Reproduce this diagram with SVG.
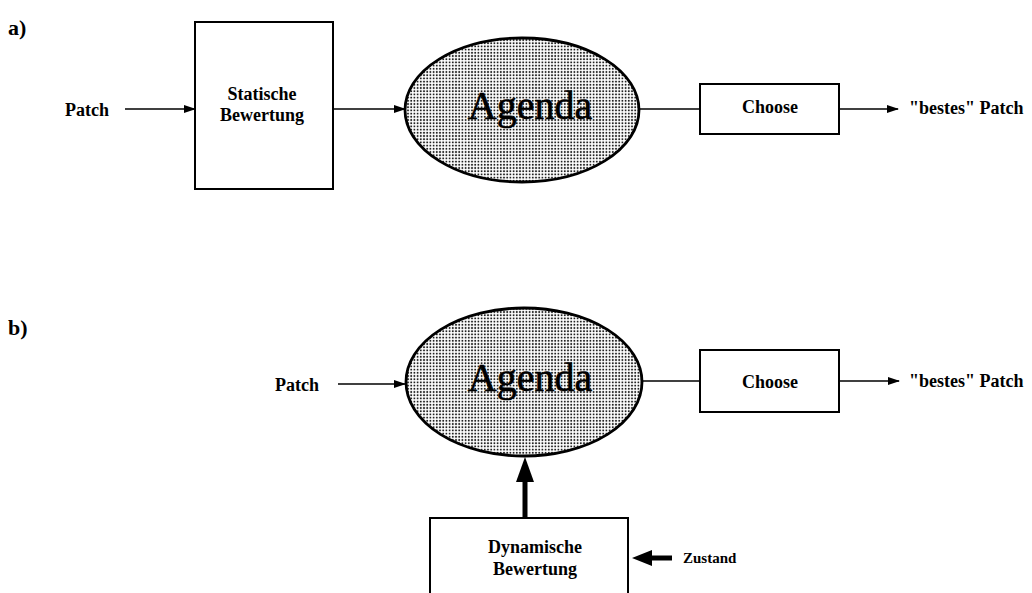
<svg xmlns="http://www.w3.org/2000/svg" width="1032" height="593" viewBox="0 0 1032 593">
  <style>
    .box { fill: #fff; stroke: #000; stroke-width: 2; }
    .ell { fill: url(#dots); stroke: #000; stroke-width: 2.8; }
    .lbl { font-family: "Liberation Serif", serif; font-weight: bold; font-size: 18px; fill: #000; }
    .sm { font-size: 15px; }
    .big { font-family: "Liberation Serif", serif; font-size: 40px; fill: #000; stroke: #000; stroke-width: 0.6; }
    .part { font-family: "Liberation Serif", serif; font-weight: bold; font-size: 22px; fill: #000; }
    .wire { stroke: #000; stroke-width: 1.6; fill: none; }
    .thick { stroke: #000; stroke-width: 5; fill: none; }
  </style>
  <defs>
    <pattern id="dots" width="3.2" height="3.2" patternUnits="userSpaceOnUse">
      <rect width="3.2" height="3.2" fill="#fff"/>
      <circle cx="1.6" cy="1.6" r="1" fill="#222"/>
    </pattern>
    <marker id="arr" markerWidth="12" markerHeight="8" refX="11" refY="4" orient="auto" markerUnits="userSpaceOnUse">
      <path d="M0,0 L12,4 L0,8 Z" fill="#000"/>
    </marker>
  </defs>

  <text class="part" x="8" y="35">a)</text>
  <text class="part" x="8" y="335">b)</text>

  <!-- connectors -->
  <g id="connectors">
    <line class="wire" x1="125" y1="109" x2="195" y2="109" marker-end="url(#arr)"/>
    <line class="wire" x1="333" y1="109" x2="405" y2="109" marker-end="url(#arr)"/>
    <line class="wire" x1="640" y1="109" x2="700" y2="109"/>
    <line class="wire" x1="839" y1="109" x2="898" y2="109" marker-end="url(#arr)"/>

    <line class="wire" x1="338" y1="384" x2="405" y2="384" marker-end="url(#arr)"/>
    <line class="wire" x1="643" y1="381" x2="700" y2="381"/>
    <line class="wire" x1="839" y1="381" x2="899" y2="381" marker-end="url(#arr)"/>
    <!-- heavy feed from dynamic rating into the agenda -->
    <line class="thick" x1="525" y1="518" x2="525" y2="478"/>
    <path d="M516,482 L525,457 L534,482 Z" fill="#000"/>
    <!-- heavy state input -->
    <line class="thick" x1="672" y1="558" x2="648" y2="558"/>
    <path d="M652,550 L632,558 L652,566 Z" fill="#000"/>
  </g>

  <!-- part a -->
  <g id="a-patch"><text class="lbl" x="65" y="116">Patch</text></g>
  <g id="a-statisch">
    <rect class="box" x="195" y="22" width="138" height="167"/>
    <text class="lbl" x="262" y="100" text-anchor="middle">Statische</text>
    <text class="lbl" x="262" y="121" text-anchor="middle">Bewertung</text>
  </g>
  <g id="a-agenda">
    <ellipse class="ell" cx="522" cy="110" rx="117" ry="72"/>
    <text class="big" x="530" y="119" text-anchor="middle">Agenda</text>
  </g>
  <g id="a-choose">
    <rect class="box" x="700" y="84" width="139" height="50"/>
    <text class="lbl" x="770" y="113" text-anchor="middle">Choose</text>
  </g>
  <g id="a-result"><text class="lbl" x="909" y="114">"bestes" Patch</text></g>

  <!-- part b -->
  <g id="b-patch"><text class="lbl" x="275" y="391">Patch</text></g>
  <g id="b-agenda">
    <ellipse class="ell" cx="524" cy="382" rx="118" ry="74"/>
    <text class="big" x="530" y="391" text-anchor="middle">Agenda</text>
  </g>
  <g id="b-choose">
    <rect class="box" x="700" y="350" width="139" height="62"/>
    <text class="lbl" x="770" y="388" text-anchor="middle">Choose</text>
  </g>
  <g id="b-result"><text class="lbl" x="909" y="387">"bestes" Patch</text></g>
  <g id="b-dynamisch">
    <rect class="box" x="430" y="518" width="198" height="90"/>
    <text class="lbl" x="535" y="553" text-anchor="middle">Dynamische</text>
    <text class="lbl" x="535" y="575" text-anchor="middle">Bewertung</text>
  </g>
  <g id="b-zustand"><text class="lbl sm" x="683" y="563">Zustand</text></g>
</svg>
